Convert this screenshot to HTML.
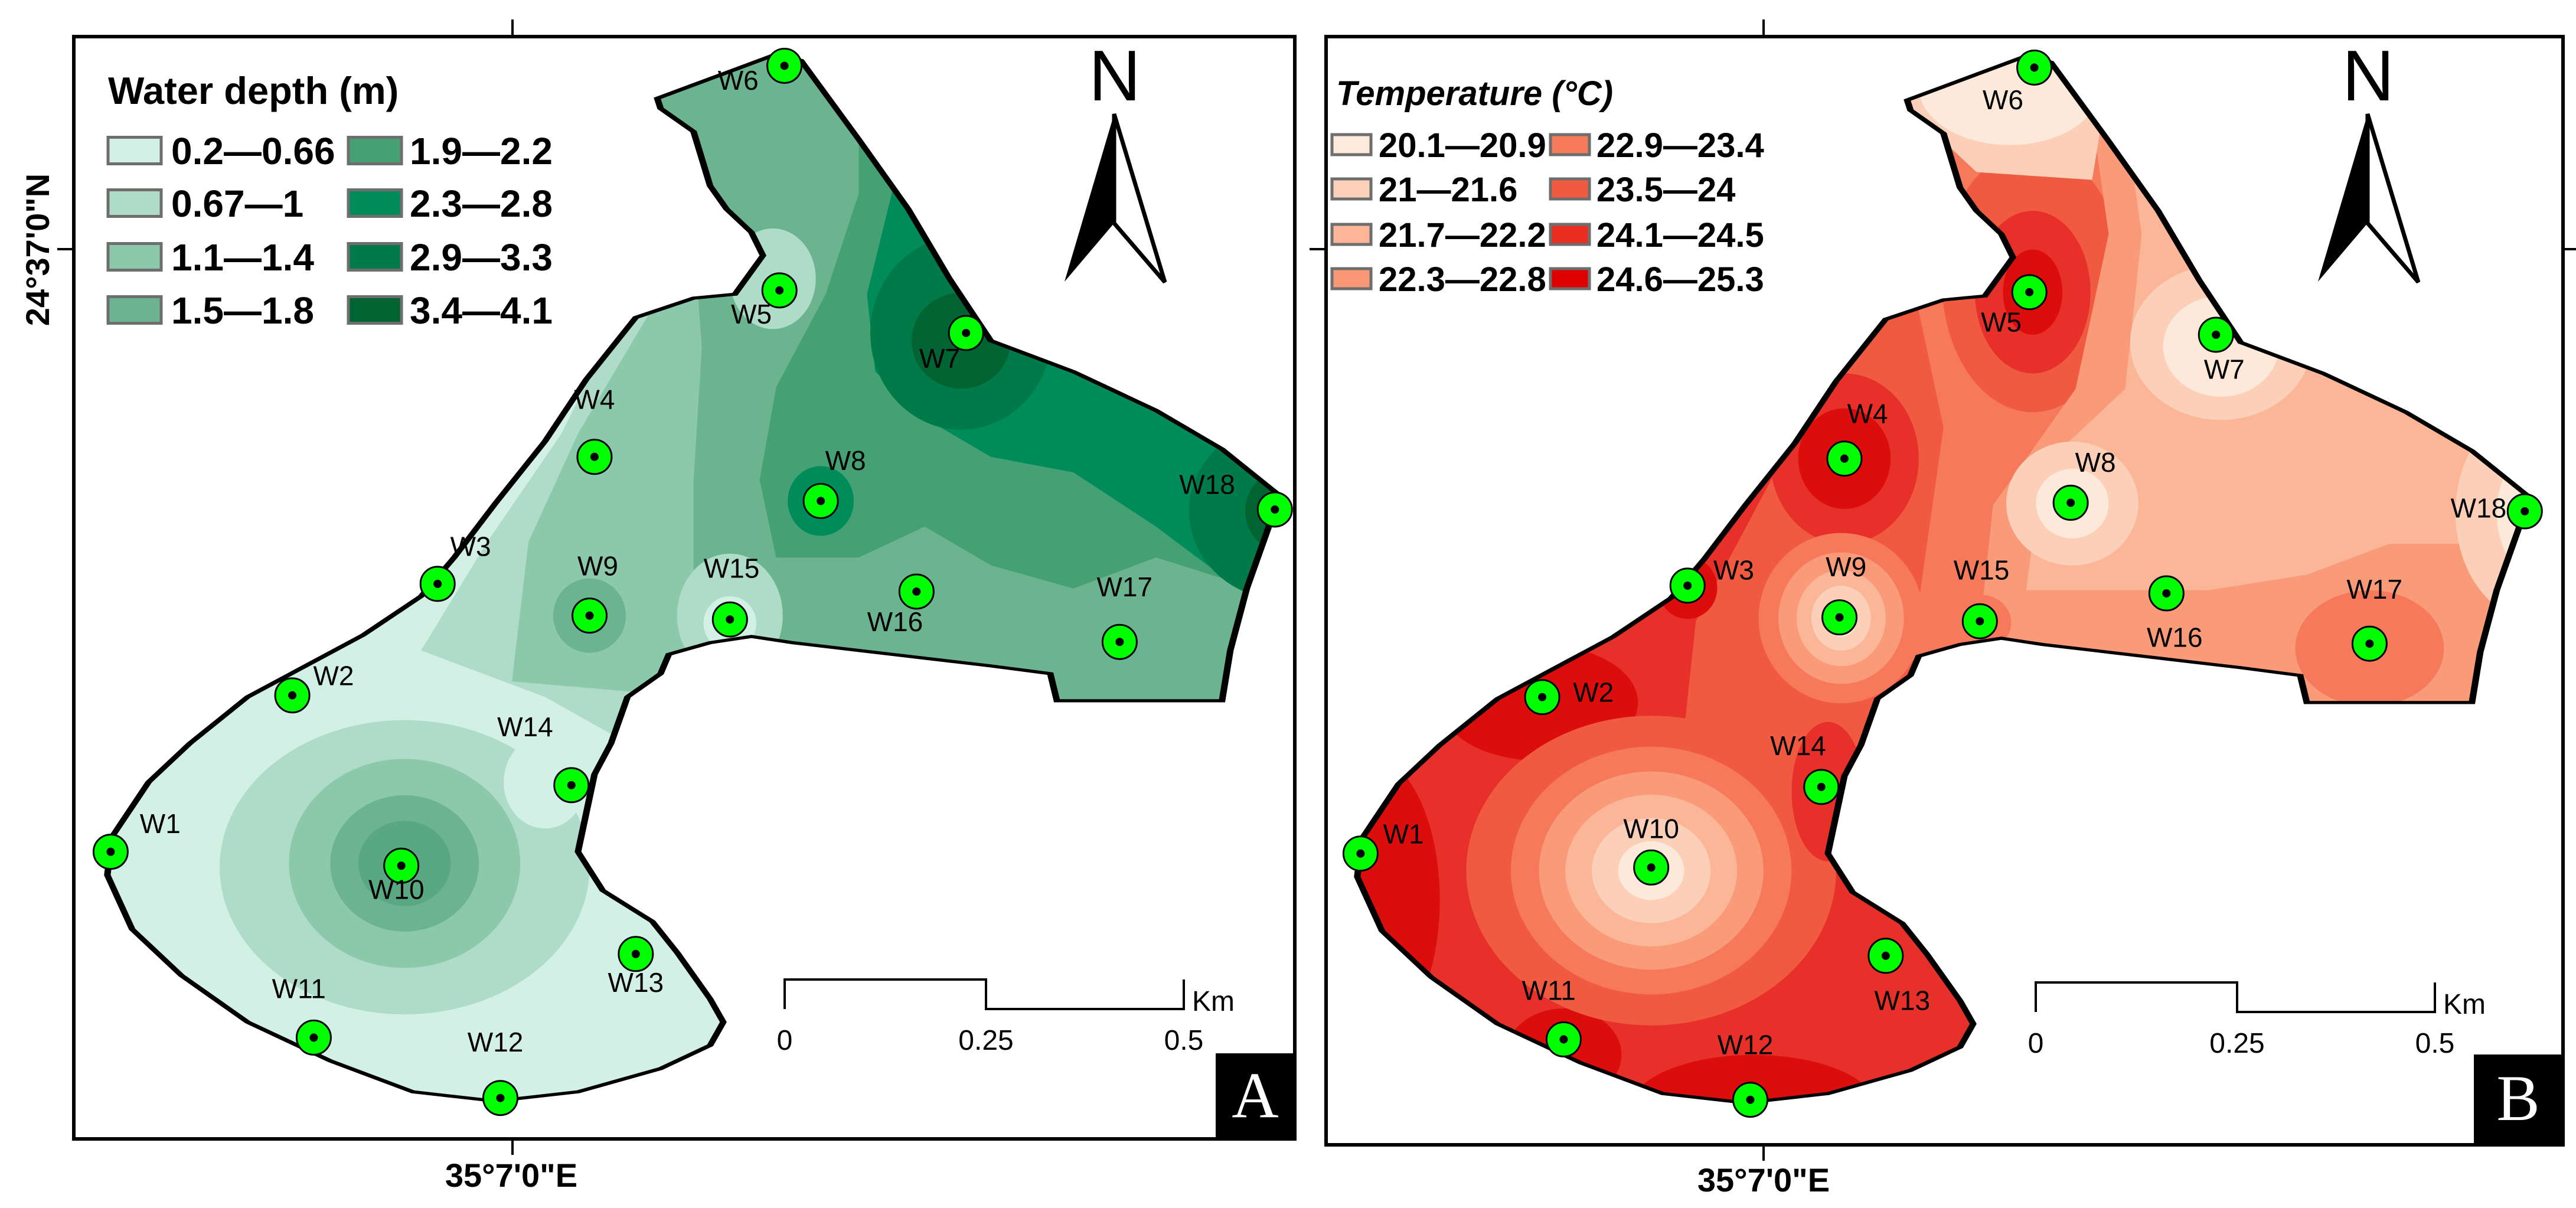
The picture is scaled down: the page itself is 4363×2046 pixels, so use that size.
<!DOCTYPE html>
<html><head><meta charset="utf-8"><style>
html,body{margin:0;padding:0;background:#fff;}
svg{display:block;}
text{font-family:"Liberation Sans",Arial,sans-serif;}
</style></head><body>
<svg id="fig" xmlns="http://www.w3.org/2000/svg" width="4363" height="2046" viewBox="0 0 4363 2046">
<defs>
<clipPath id="lakeClip"><path id="lakePath" d="M398,127 L470,70 L485,78 L520,180 L550,270 L575,360 L600,440 L650,480 L700,530 L740,580 L775,640 L765,700 L755,760 L745,840 L740,905 L640,905 L636,870 L600,860 L560,850 L520,840 L480,830 L455,822 L430,830 L405,845 L400,870 L380,900 L370,960 L360,1000 L355,1050 L350,1100 L365,1150 L395,1190 L410,1230 L420,1260 L430,1290 L438,1320 L430,1350 L400,1380 L350,1410 L300,1422 L250,1410 L200,1370 L150,1320 L110,1260 L80,1200 L65,1130 L68,1080 L90,1010 L115,960 L150,900 L185,860 L220,820 L255,770 L275,720 L300,650 L330,570 L355,490 L385,410 L420,385 L445,380 L462,330 L455,300 L440,270 L430,240 L420,170 L400,140 Z"/></clipPath>
</defs>

<!-- Panel A -->
<g>
<rect x="125" y="62" width="2068" height="1867" fill="#fff" stroke="#000" stroke-width="6"/>
<g transform="matrix(2.797 0 0 1.3115 0 0)">
<g clip-path="url(#lakeClip)">
<rect x="0" y="0" width="800" height="1500" fill="#d2f0e6"/>
<path fill="#aedcc8" d="M255,840 L295,700 L340,560 L400,300 L500,0 L800,0 L800,1000 L380,960 L330,900 Z"/>
<ellipse cx="245" cy="1120" rx="112" ry="190" fill="#aedcc8"/>
<ellipse cx="330" cy="1010" rx="25" ry="60" fill="#d2f0e6"/>
<path fill="#8cc8aa" d="M310,880 L320,700 L350,560 L400,380 L430,200 L500,0 L800,0 L800,1000 L420,900 Z"/>
<ellipse cx="245" cy="1115" rx="70" ry="135" fill="#8cc8aa"/>
<ellipse cx="245" cy="1115" rx="45" ry="88" fill="#6bb48f"/>
<ellipse cx="245" cy="1115" rx="28" ry="55" fill="#5aa882"/>
<ellipse cx="357" cy="795" rx="22" ry="48" fill="#6bb48f"/>
<path fill="#6bb48f" d="M420,860 L420,620 L425,450 L420,300 L380,100 L400,0 L800,0 L800,1000 Z"/>
<ellipse cx="468" cy="360" rx="26" ry="65" fill="#aedcc8"/>
<ellipse cx="442" cy="795" rx="32" ry="80" fill="#aedcc8"/>
<ellipse cx="442" cy="805" rx="16" ry="35" fill="#d2f0e6"/>
<path fill="#45a073" d="M470,720 L460,620 L470,500 L500,380 L520,250 L520,0 L800,0 L800,900 L760,760 L700,720 L650,760 L600,730 L560,680 L520,720 Z"/>
<ellipse cx="497" cy="647" rx="20" ry="45" fill="#008c5a"/>
<path fill="#008c5a" d="M540,250 L550,150 L560,0 L800,0 L800,830 L750,760 L700,680 L650,610 L600,590 L560,540 L530,480 L525,380 Z"/>
<ellipse cx="582" cy="430" rx="55" ry="125" fill="#007a48"/>
<ellipse cx="582" cy="440" rx="30" ry="62" fill="#006432"/>
<ellipse cx="778" cy="660" rx="58" ry="115" fill="#007a48"/>
<ellipse cx="780" cy="660" rx="26" ry="55" fill="#006432"/>
</g>
<use href="#lakePath" fill="none" stroke="#000" stroke-width="4" vector-effect="non-scaling-stroke"/>
</g>
<g id="wellsA"></g>
<g>
<text x="183" y="176" font-size="65" font-weight="bold">Water depth (m)</text>
<g id="legA"></g>
</g>
<g>
<text x="1888" y="170" font-size="122" text-anchor="middle">N</text>
<polygon points="1887,193 1803,477 1887,378" fill="#000"/>
<polygon points="1887,193 1973,478 1887,378" fill="#fff" stroke="#000" stroke-width="7" stroke-linejoin="miter"/>
</g>
<g fill="none" stroke="#000" stroke-width="4">
<path d="M1329,1709 L1329,1659 L1670,1659 L1670,1709 L2005,1709 L2005,1659"/>
</g>
<g font-size="48" text-anchor="middle">
<text x="1329" y="1778">0</text>
<text x="1670" y="1778">0.25</text>
<text x="2005" y="1778">0.5</text>
<text x="2055" y="1712">Km</text>
</g>
<rect x="2059" y="1784" width="134" height="145" fill="#000"/>
<text x="2126" y="1892" font-size="110" fill="#fff" text-anchor="middle" style="font-family:'Liberation Serif',serif">A</text>
<line x1="868" y1="33" x2="868" y2="62" stroke="#000" stroke-width="4"/>
<line x1="868" y1="1929" x2="868" y2="1956" stroke="#000" stroke-width="4"/>
<line x1="97" y1="422" x2="125" y2="422" stroke="#000" stroke-width="4"/>
<text x="866" y="2010" font-size="56" font-weight="bold" text-anchor="middle">35°7'0"E</text>
<text transform="translate(83,423) rotate(-90)" font-size="56" font-weight="bold" text-anchor="middle">24°37'0"N</text>
</g>

<!-- Panel B -->
<g>
<rect x="2246" y="62" width="2095" height="1877" fill="#fff" stroke="#000" stroke-width="6"/>
<g transform="matrix(2.797 0 0 1.3115 2117 3)">
<g clip-path="url(#lakeClip)">
<rect x="0" y="0" width="800" height="1500" fill="#e8302a"/>
<ellipse cx="70" cy="1160" rx="45" ry="190" fill="#dc0d0d"/>
<ellipse cx="175" cy="905" rx="60" ry="75" fill="#dc0d0d"/>
<ellipse cx="305" cy="1430" rx="75" ry="70" fill="#dc0d0d"/>
<ellipse cx="190" cy="1360" rx="35" ry="60" fill="#dc0d0d"/>
<path fill="#ef5a40" d="M260,1000 L270,800 L320,600 L350,430 L380,200 L500,0 L800,0 L800,1000 L420,960 L330,1000 Z"/>
<ellipse cx="243" cy="1122" rx="112" ry="200" fill="#ef5a40"/>
<ellipse cx="350" cy="1020" rx="22" ry="90" fill="#e8302a"/>
<ellipse cx="265" cy="757" rx="18" ry="40" fill="#dc0d0d"/>
<path fill="#f5795a" d="M400,850 L410,700 L420,550 L400,350 L400,0 L800,0 L800,1000 Z"/>
<ellipse cx="360" cy="590" rx="45" ry="110" fill="#e8302a"/>
<ellipse cx="360" cy="590" rx="28" ry="65" fill="#dc0d0d"/>
<ellipse cx="474" cy="360" rx="55" ry="170" fill="#ef5a40"/>
<ellipse cx="474" cy="375" rx="35" ry="105" fill="#e8302a"/>
<ellipse cx="474" cy="375" rx="18" ry="55" fill="#dc0d0d"/>
<path fill="#f99a78" d="M440,850 L450,650 L500,500 L520,300 L500,0 L800,0 L800,1000 Z"/>
<path fill="#fbb597" d="M470,760 L480,600 L530,500 L540,300 L520,0 L800,0 L800,720 L740,700 L690,700 L640,740 L580,760 Z"/>
<ellipse cx="678" cy="835" rx="70" ry="110" fill="#f99a78"/>
<ellipse cx="678" cy="835" rx="45" ry="75" fill="#f5795a"/>
<ellipse cx="443" cy="802" rx="18" ry="36" fill="#f5795a"/>
<path fill="#fcd0b8" d="M390,120 L440,220 L510,230 L520,100 L500,0 L380,0 Z"/>
<ellipse cx="460" cy="110" rx="55" ry="75" fill="#fde9d9"/>
<ellipse cx="588" cy="440" rx="55" ry="100" fill="#fcd0b8"/>
<ellipse cx="588" cy="445" rx="35" ry="65" fill="#fde9d9"/>
<ellipse cx="780" cy="660" rx="50" ry="140" fill="#fcd0b8"/>
<ellipse cx="785" cy="660" rx="30" ry="90" fill="#fde9d9"/>
<ellipse cx="498" cy="648" rx="40" ry="80" fill="#fcd0b8"/>
<ellipse cx="498" cy="648" rx="22" ry="45" fill="#fde9d9"/>
<ellipse cx="358" cy="796" rx="50" ry="110" fill="#f5795a"/>
<ellipse cx="358" cy="796" rx="38" ry="85" fill="#f99a78"/>
<ellipse cx="358" cy="796" rx="27" ry="62" fill="#fbb597"/>
<ellipse cx="358" cy="796" rx="18" ry="42" fill="#fcd0b8"/>
<ellipse cx="358" cy="796" rx="10" ry="24" fill="#fde9d9"/>
<ellipse cx="243" cy="1122" rx="85" ry="160" fill="#f5795a"/>
<ellipse cx="243" cy="1122" rx="68" ry="128" fill="#f99a78"/>
<ellipse cx="243" cy="1122" rx="52" ry="98" fill="#fbb597"/>
<ellipse cx="243" cy="1122" rx="36" ry="68" fill="#fcd0b8"/>
<ellipse cx="243" cy="1122" rx="20" ry="38" fill="#fde9d9"/>
</g>
<use href="#lakePath" fill="none" stroke="#000" stroke-width="4" vector-effect="non-scaling-stroke"/>
</g>
<g id="wellsB"></g>
<g>
<text x="2263" y="178" font-size="58" font-weight="bold" font-style="italic">Temperature (°C)</text>
<g id="legB"></g>
</g>
<g>
<text x="4011" y="170" font-size="122" text-anchor="middle">N</text>
<polygon points="4010,193 3926,477 4010,378" fill="#000"/>
<polygon points="4010,193 4096,478 4010,378" fill="#fff" stroke="#000" stroke-width="7"/>
</g>
<g fill="none" stroke="#000" stroke-width="4">
<path d="M3448,1714 L3448,1664 L3789,1664 L3789,1714 L4124,1714 L4124,1664"/>
</g>
<g font-size="48" text-anchor="middle">
<text x="3448" y="1783">0</text>
<text x="3789" y="1783">0.25</text>
<text x="4124" y="1783">0.5</text>
<text x="4174" y="1717">Km</text>
</g>
<rect x="4190" y="1786" width="151" height="153" fill="#000"/>
<text x="4265" y="1897" font-size="110" fill="#fff" text-anchor="middle" style="font-family:'Liberation Serif',serif">B</text>
<line x1="2987" y1="33" x2="2987" y2="62" stroke="#000" stroke-width="4"/>
<line x1="2987" y1="1939" x2="2987" y2="1966" stroke="#000" stroke-width="4"/>
<line x1="2218" y1="422" x2="2246" y2="422" stroke="#000" stroke-width="4"/>
<line x1="4341" y1="422" x2="4363" y2="422" stroke="#000" stroke-width="4"/>
<text x="2987" y="2018" font-size="56" font-weight="bold" text-anchor="middle">35°7'0"E</text>
</g>
</svg>
<script>
const wellNames=["W1","W2","W3","W4","W5","W6","W7","W8","W9","W10","W11","W12","W13","W14","W15","W16","W17","W18"];
const wellX=[67,177,265,360,472,475,585,497,357,243,190,303,385,346,442,555,678,772];
const wellY=[1100,898,754,590,375,85,430,647,795,1118,1340,1418,1232,1014,800,764,829,658];
const labelAX=[97,202,285,360,455,447,569,512,362,240,181,300,385,318,443,542,681,731];
const labelAY=[1063,872,705,515,405,103,462,594,730,1148,1276,1345,1268,938,733,802,757,625];
const labelBX=[93,208,293,374,455,456,590,512,361,243,181,300,395,332,443,560,681,744];
const labelBY=[1074,891,733,531,413,126,474,594,729,1067,1276,1346,1289,960,733,820,758,653];
const depthValues=[0.4,0.5,0.5,1.2,0.8,1.6,3.8,2.5,1.6,2.0,0.4,0.5,0.5,0.4,0.3,1.6,1.6,3.6];
const tempValues=[25.0,25.0,24.8,25.0,25.1,20.8,20.5,20.3,20.3,20.2,24.3,24.8,24.3,24.3,23.5,22.0,23.2,20.6];
const depthBins=["0.2\u20140.66","0.67\u20141","1.1\u20141.4","1.5\u20141.8","1.9\u20142.2","2.3\u20142.8","2.9\u20143.3","3.4\u20144.1"];
const depthColors=["#d2f0e6","#aedcc8","#8cc8aa","#6bb48f","#45a073","#008c5a","#007a48","#006432"];
const tempBins=["20.1\u201420.9","21\u201421.6","21.7\u201422.2","22.3\u201422.8","22.9\u201423.4","23.5\u201424","24.1\u201424.5","24.6\u201425.3"];
const tempColors=["#fdeada","#fdd1b9","#fcb597","#fa9876","#f57b5a","#f05a3e","#eb2d22","#df0000"];
const NS="http://www.w3.org/2000/svg";
const sx=v=>v*2.797, sy=v=>v*1.3115;
function mk(tag,attrs,parent){const e=document.createElementNS(NS,tag);for(const k in attrs)e.setAttribute(k,attrs[k]);parent.appendChild(e);return e;}
function drawWells(gid,dx,dy,lx,ly,vals,unit){
  const g=document.getElementById(gid);
  wellNames.forEach((n,i)=>{
    const c=mk('circle',{cx:sx(wellX[i])+dx,cy:sy(wellY[i])+dy,r:29,fill:'#00ff00',stroke:'#000','stroke-width':3},g);
    
    
    const t=document.createElementNS(NS,'title');t.textContent=n+': '+vals[i]+' '+unit;c.appendChild(t);
    mk('circle',{cx:sx(wellX[i])+dx,cy:sy(wellY[i])+dy,r:7,fill:'#000'},g);
    const tx=mk('text',{x:sx(lx[i])+dx,y:sy(ly[i])+dy+17,'font-size':46,'text-anchor':'middle'},g);
    
    
    tx.textContent=n;
  });
}
drawWells('wellsA',0,0,labelAX,labelAY,depthValues,'m');
drawWells('wellsB',2117,3,labelBX,labelBY,tempValues,'°C');
function drawLegend(gid,bins,cols,x0,x1,tx0,tx1,rowsY,sw,sh,fs){
  const g=document.getElementById(gid);
  bins.forEach((b,i)=>{
    const col=Math.floor(i/4), row=i%4;
    const r=mk('rect',{x:col?x1:x0,y:rowsY[row]-sh/2,width:sw,height:sh,fill:cols[i],stroke:'#6e6e6e','stroke-width':5},g);
    
    
    const t=mk('text',{x:col?tx1:tx0,y:rowsY[row]+fs*0.36,'font-size':fs,'font-weight':'bold'},g);
    
    
    t.textContent=b;
  });
}
drawLegend('legA',depthBins,depthColors,183,590,290,694,[255,344,435,525],90,45,64);
drawLegend('legB',tempBins,tempColors,2256,2626,2335,2704,[245,320,397,472],66,34,58);
</script>
</body></html>
